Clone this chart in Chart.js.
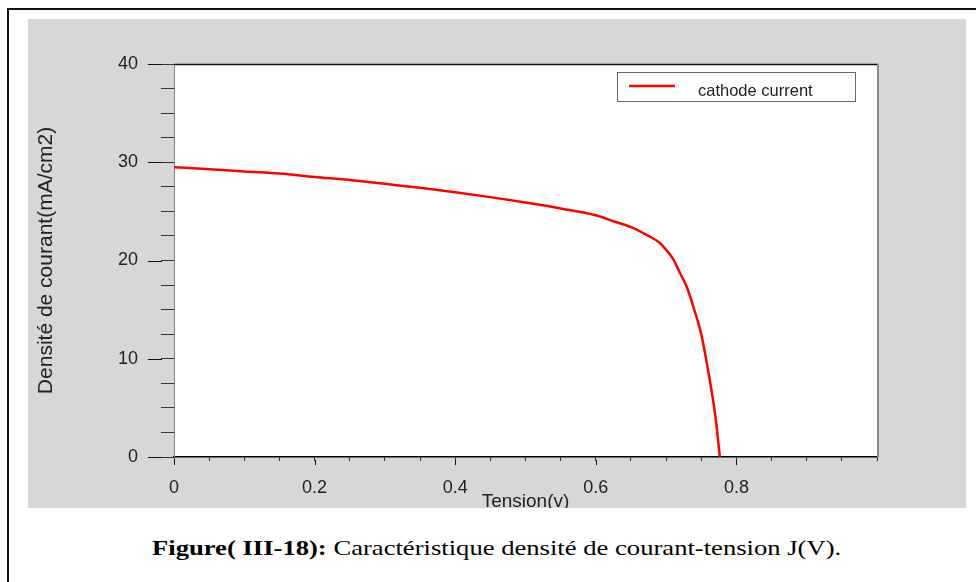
<!DOCTYPE html>
<html>
<head>
<meta charset="utf-8">
<script src="https://cdn.jsdelivr.net/npm/chart.js@4/dist/chart.umd.min.js"></script>
<style>
  html, body { margin: 0; padding: 0; width: 976px; height: 582px; overflow: hidden; background: #fff; }
  #frame { position: absolute; left: 7px; top: 8px; width: 1000px; height: 1000px;
           border-left: 2px solid #111; border-top: 2px solid #111; }
  #plot { position: absolute; left: 28px; top: 19px; width: 938px; height: 489px; background: #d7d7d7; }
  #caption { position: absolute; left: 152px; top: 537px; white-space: nowrap;
             font: 22px/22px "Liberation Serif", "Times New Roman", serif; color: #000;
             transform: scaleX(1.21); transform-origin: 0 0; }
</style>
</head>
<body>
<div id="frame"></div>
<div id="plot"><canvas id="ctx" width="938" height="489"></canvas></div>
<div id="caption"><b>Figure( III-18):</b> Caractéristique densité de courant-tension J(V).</div>
<script>
// J(V) curve of the cell
const voltage = [0, 0.05, 0.1, 0.15, 0.2, 0.25, 0.3, 0.35, 0.4, 0.45, 0.5, 0.55, 0.6,
                 0.625, 0.65, 0.675, 0.69, 0.7, 0.71, 0.72, 0.73, 0.74, 0.75, 0.76, 0.77, 0.7765];
const currentDensity = [29.5, 29.3, 29.05, 28.85, 28.5, 28.2, 27.8, 27.4, 26.95, 26.45, 25.9, 25.3, 24.6,
                        24.0, 23.4, 22.5, 21.85, 21.1, 20.15, 18.7, 17.2, 15.0, 12.5, 8.7, 4.2, 0];
const seriesLabel = "cathode current";

const xTickLabels = ["0", "0.2", "0.4", "0.6", "0.8"];
const yTickLabels = ["0", "10", "20", "30", "40"];

const labelFont = "Liberation Sans";

function findLabel(list, value) {
    const hit = list.find(l => Math.abs(Number(l) - value) < 1e-6);
    return hit === undefined ? "" : hit;
}

// white plot area, frame, long major ticks and the boxed legend
const plotFrame = {
    id: "plotFrame",
    beforeDraw(chart) {
        const {ctx, chartArea: a} = chart;
        ctx.save();
        ctx.fillStyle = "#fff";
        ctx.fillRect(a.left, a.top, a.right - a.left, a.bottom - a.top);
        ctx.restore();
    },
    afterDraw(chart) {
        const {ctx, chartArea: a, scales} = chart;
        ctx.save();

        ctx.strokeStyle = "#111";
        ctx.lineWidth = 1;
        yTickLabels.forEach(l => {
            const py = Math.round(scales.y.getPixelForValue(Number(l))) + 0.5;
            ctx.beginPath();
            ctx.moveTo(a.left - 26, py);
            ctx.lineTo(a.left - 12, py);
            ctx.stroke();
        });
        xTickLabels.forEach(l => {
            const px = Math.round(scales.x.getPixelForValue(Number(l))) + 0.5;
            ctx.beginPath();
            ctx.moveTo(px, a.bottom + 3);
            ctx.lineTo(px, a.bottom + 8);
            ctx.stroke();
        });

        // top and right edges of the frame
        ctx.lineWidth = 1.5;
        ctx.beginPath();
        ctx.moveTo(a.left, Math.round(a.top) + 0.5);
        ctx.lineTo(a.right + 1, Math.round(a.top) + 0.5);
        ctx.stroke();
        ctx.strokeStyle = "#8a8a8a";
        ctx.lineWidth = 2;
        ctx.beginPath();
        ctx.moveTo(Math.round(a.right) + 1, a.top);
        ctx.lineTo(Math.round(a.right) + 1, a.bottom);
        ctx.stroke();

        // legend box
        const ds = chart.data.datasets[0];
        const bw = 238, bh = 29;
        const bx = Math.round(a.right) - 22 - bw, by = Math.round(a.top) + 8;
        ctx.fillStyle = "#fff";
        ctx.fillRect(bx, by, bw, bh);
        ctx.strokeStyle = "#666";
        ctx.lineWidth = 1;
        ctx.strokeRect(bx + 0.5, by + 0.5, bw, bh);
        ctx.strokeStyle = ds.borderColor;
        ctx.lineWidth = 2.5;
        ctx.beginPath();
        ctx.moveTo(bx + 12, by + 14);
        ctx.lineTo(bx + 58, by + 14);
        ctx.stroke();
        ctx.fillStyle = "#222";
        ctx.font = "16.5px '" + labelFont + "'";
        ctx.textBaseline = "middle";
        ctx.fillText(ds.label, bx + 81, by + 19);

        ctx.restore();
    }
};

new Chart("ctx", {
    type: "line",
    data: {
        datasets: [{
            label: seriesLabel,
            data: voltage.map((v, i) => ({x: v, y: currentDensity[i]})),
            borderColor: "#ff0000",
            borderWidth: 2.5,
            pointRadius: 0,
            fill: false,
            cubicInterpolationMode: "monotone"
        }]
    },
    options: {
        responsive: false,
        animation: false,
        layout: {padding: {top: 45, right: 89, left: 0, bottom: 0}},
        plugins: {legend: {display: false}, tooltip: {enabled: false}},
        scales: {
            x: {
                type: "linear",
                min: 0,
                max: 1,
                afterFit: s => { s.height = 51; },
                border: {color: "#000", width: 1.5},
                grid: {drawOnChartArea: false, tickLength: 4, tickColor: "#333"},
                ticks: {
                    stepSize: 0.05,
                    autoSkip: false,
                    maxRotation: 0,
                    padding: 16,
                    color: "#222",
                    font: {family: labelFont, size: 18},
                    callback: v => findLabel(xTickLabels, v)
                },
                title: {
                    display: true,
                    text: "Tension(v)",
                    color: "#222",
                    padding: 0,
                    font: {family: labelFont, size: 19, lineHeight: 0.7}
                }
            },
            y: {
                min: 0,
                max: 40,
                afterFit: s => { s.width = 146; },
                border: {color: "#888", width: 1},
                grid: {drawOnChartArea: false, tickLength: 13, tickColor: "#333"},
                ticks: {
                    stepSize: 2.5,
                    autoSkip: false,
                    padding: 23,
                    color: "#222",
                    font: {family: labelFont, size: 18},
                    callback: v => findLabel(yTickLabels, v)
                },
                title: {
                    display: true,
                    text: "Densité de courant(mA/cm2)",
                    color: "#222",
                    padding: {top: 6, bottom: 0},
                    font: {family: labelFont, size: 21, lineHeight: 1.2}
                }
            }
        }
    },
    plugins: [plotFrame]
});
</script>
</body>
</html>
